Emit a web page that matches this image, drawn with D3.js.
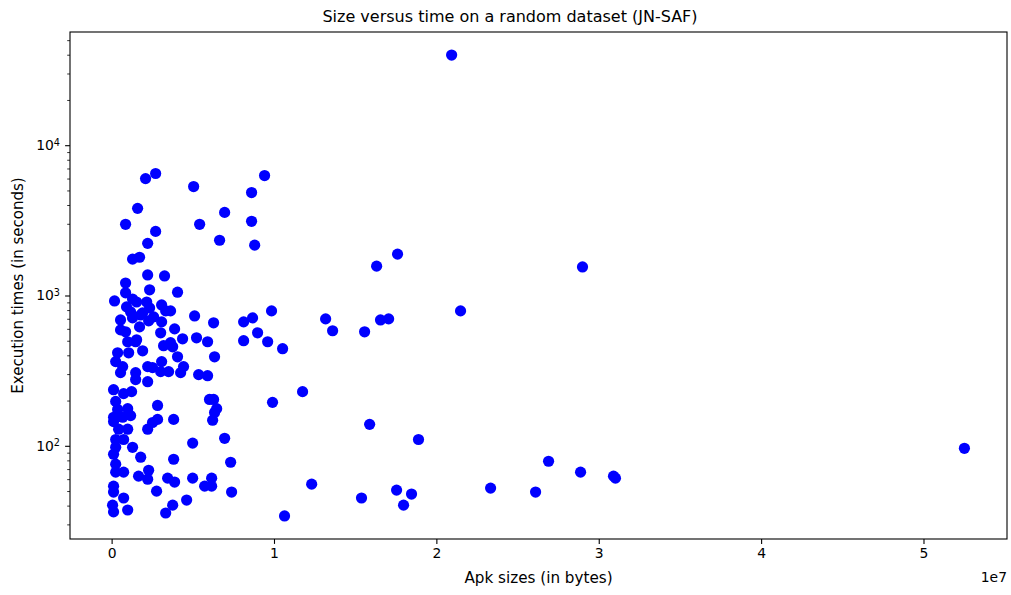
<!DOCTYPE html>
<html>
<head>
<meta charset="utf-8">
<script src="https://cdn.jsdelivr.net/npm/d3@7"></script>
<style>
  html, body { margin: 0; padding: 0; background: #fff; }
  svg text { font-family: "DejaVu Sans", sans-serif; fill: #000; }
</style>
</head>
<body>
<svg id="chart" width="1011" height="595"></svg>
<script>
// apk sizes, in units of 1e6 bytes
const apkSizesMB = [
  20.94, 2.71, 2.09, 9.42, 5.05, 8.62, 1.60, 6.96, 0.86, 5.42,
  8.62, 2.71, 2.22, 6.65, 8.81, 1.29, 1.72, 17.61, 16.32, 29.00,
  2.22, 3.26, 0.86, 2.34, 4.06, 0.86, 0.18, 1.29, 1.54, 2.16,
  3.08, 3.63, 2.34, 1.91, 0.92, 1.17, 0.55, 1.29, 2.59, 3.08,
  5.11, 1.79, 3.88, 0.86, 1.72, 0.55, 3.02, 4.37, 5.23, 1.54,
  0.99, 3.63, 6.28, 8.13, 8.68, 9.85, 8.99, 5.91, 8.13, 9.61,
  10.53, 13.18, 13.61, 15.58, 16.56, 17.06, 21.49, 11.76, 9.91, 15.89,
  18.90, 26.91, 28.88, 30.91, 31.03, 12.32, 17.55, 18.47, 23.34, 26.11,
  15.39, 17.98, 10.65, 52.52, 1.48, 3.20, 3.76, 0.37, 1.05, 1.91,
  4.06, 6.34, 0.25, 0.68, 3.08, 2.22, 2.52, 0.55, 1.48, 1.48,
  2.22, 3.02, 3.51, 4.25, 4.43, 5.36, 5.91, 0.12, 1.23, 0.74,
  0.25, 0.37, 0.99, 2.83, 1.17, 0.12, 2.83, 3.82, 6.03, 6.28,
  6.47, 6.34, 6.22, 0.12, 0.68, 0.43, 0.99, 0.25, 0.74, 2.22,
  2.52, 0.25, 1.29, 4.99, 6.96, 0.12, 1.79, 3.82, 7.33, 0.25,
  0.25, 0.74, 2.28, 1.66, 2.22, 3.45, 3.88, 4.99, 5.73, 6.16,
  6.16, 7.39, 2.77, 0.12, 0.12, 0.74, 4.62, 0.06, 0.12, 0.99,
  3.76, 3.33, 3.33, 2.28
];

// execution times in seconds, same order as apkSizesMB
const execTimes = [
  40100, 6530, 6040, 6330, 5350, 4880, 3830, 3600, 3000, 3000,
  3140, 2690, 2240, 2350, 2180, 1760, 1810, 1900, 1580, 1560,
  1380, 1360, 1220, 1100, 1060, 1050, 927, 955, 912, 912,
  872, 796, 833, 772, 846, 783, 693, 715, 726, 673,
  737, 748, 604, 578, 623, 595, 569, 519, 527, 511,
  496, 489, 663, 673, 715, 796, 569, 496, 504, 496,
  446, 704, 587, 578, 693, 704, 796, 231, 196, 140,
  111, 79.5, 67.3, 63.3, 61.4, 56.0, 51.1, 48.1, 52.7, 49.6,
  45.3, 40.6, 34.4, 97.0, 496, 467, 459, 419, 419, 432,
  394, 394, 366, 339, 366, 339, 334, 309, 309, 278,
  269, 314, 314, 309, 339, 300, 295, 238, 231, 224,
  199, 176, 178, 187, 160, 156, 151, 151, 205, 205,
  178, 168, 149, 146, 156, 130, 130, 111, 111, 130,
  144, 98.5, 98.5, 105, 113, 88.5, 84.6, 82.0, 78.3, 76.1,
  67.3, 67.3, 69.3, 63.3, 60.4, 61.4, 57.8, 61.4, 54.3, 61.4,
  54.3, 49.6, 50.3, 54.3, 49.6, 45.3, 43.9, 40.6, 36.6, 37.7,
  40.6, 36.0, 796, 683
];

const xTickValues = [0, 1, 2, 3, 4, 5];   // in 1e7 bytes
const yMajorTicks = [2, 3, 4];            // powers of ten
const titleText = "Size versus time on a random dataset (JN-SAF)";
const xLabel = "Apk sizes (in bytes)";
const yLabel = "Execution times (in seconds)";
const xOffsetText = "1e7";

const points = apkSizesMB.map((s, i) => ({ size: s * 1e6, time: execTimes[i] }));

const svg = d3.select("#chart");
const width = +svg.attr("width");
const height = +svg.attr("height");
const margin = { top: 32, right: 4, bottom: 56, left: 70 };
const innerW = width - margin.left - margin.right;
const innerH = height - margin.top - margin.bottom;
const g = svg.append("g").attr("transform", `translate(${margin.left},${margin.top})`);

// matplotlib style 5% padding on both axes
const [xMin, xMax] = d3.extent(points, d => d.size);
const xPad = (xMax - xMin) * 0.05;
const x = d3.scaleLinear().domain([xMin - xPad, xMax + xPad]).range([0, innerW]);

const [yMinL, yMaxL] = d3.extent(points, d => Math.log10(d.time));
const yPad = (yMaxL - yMinL) * 0.05;
const y = d3.scaleLog()
  .domain([Math.pow(10, yMinL - yPad), Math.pow(10, yMaxL + yPad)])
  .range([innerH, 0]);

// points
g.append("g")
  .selectAll("circle")
  .data(points)
  .enter()
  .append("circle")
  .attr("cx", d => x(d.size))
  .attr("cy", d => y(d.time))
  .attr("r", 5.6)
  .attr("fill", "#0000ff");

// x axis
const xAxis = d3.axisBottom(x)
  .tickValues(xTickValues.map(v => v * 1e7))
  .tickFormat(d => d3.format("d")(d / 1e7))
  .tickSize(4.9)
  .tickPadding(4.5);

g.append("g")
  .attr("transform", `translate(0,${innerH})`)
  .call(xAxis)
  .call(a => a.select(".domain").remove())
  .call(a => a.selectAll("line").attr("stroke", "#000").attr("stroke-width", 1.1))
  .selectAll("text")
  .style("font-size", "13.9px")
  .style("font-family", "DejaVu Sans");

// y axis, minor ticks
const [d0, d1] = y.domain();
const minor = [];
for (let p = Math.floor(Math.log10(d0)); p <= Math.ceil(Math.log10(d1)); p++) {
  for (let m = 2; m <= 9; m++) {
    const v = m * Math.pow(10, p);
    if (v >= d0 && v <= d1) minor.push(v);
  }
}

g.append("g")
  .selectAll("line")
  .data(minor)
  .enter()
  .append("line")
  .attr("x1", 0)
  .attr("x2", -2.8)
  .attr("y1", d => y(d))
  .attr("y2", d => y(d))
  .attr("stroke", "#000")
  .attr("stroke-width", 0.8);

// y axis, major ticks with 10^n labels
const yMaj = g.append("g")
  .selectAll("g")
  .data(yMajorTicks)
  .enter()
  .append("g")
  .attr("transform", d => `translate(0,${y(Math.pow(10, d))})`);

yMaj.append("line")
  .attr("x1", 0)
  .attr("x2", -4.9)
  .attr("stroke", "#000")
  .attr("stroke-width", 1.1);

const yLab = yMaj.append("text")
  .attr("x", -10)
  .attr("dy", "0.32em")
  .attr("text-anchor", "end")
  .style("font-size", "13.9px");
yLab.append("tspan").text("10");
yLab.append("tspan")
  .attr("dy", "-0.45em")
  .style("font-size", "9.7px")
  .text(d => d);

// frame
g.append("rect")
  .attr("width", innerW)
  .attr("height", innerH)
  .attr("fill", "none")
  .attr("stroke", "#000")
  .attr("stroke-width", 1.1);

// title and labels
svg.append("text")
  .attr("x", 510)
  .attr("y", 22)
  .attr("text-anchor", "middle")
  .style("font-size", "16px")
  .text(titleText);

svg.append("text")
  .attr("x", margin.left + innerW / 2)
  .attr("y", 583)
  .attr("text-anchor", "middle")
  .style("font-size", "15.2px")
  .text(xLabel);

svg.append("text")
  .attr("transform", `translate(23,${margin.top + innerH / 2}) rotate(-90)`)
  .attr("text-anchor", "middle")
  .style("font-size", "15px")
  .text(yLabel);

svg.append("text")
  .attr("x", margin.left + innerW)
  .attr("y", 582)
  .attr("text-anchor", "end")
  .style("font-size", "13.9px")
  .text(xOffsetText);
</script>
</body>
</html>
